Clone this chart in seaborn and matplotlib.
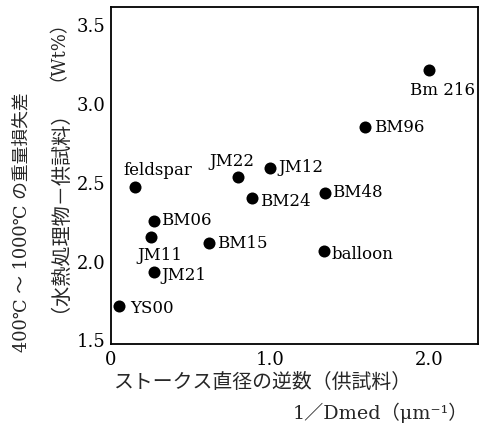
import matplotlib
matplotlib.use("Agg")
import matplotlib.pyplot as plt
import seaborn as sns
import pandas as pd

names = ["Bm 216", "BM96", "JM12", "JM22", "feldspar", "BM48", "BM24",
         "BM06", "JM11", "BM15", "balloon", "JM21", "YS00"]
inv_dmed = [2.00, 1.60, 1.00, 0.80, 0.15, 1.35, 0.89, 0.27, 0.25, 0.62, 1.34, 0.27, 0.05]
loss_diff = [3.21, 2.85, 2.59, 2.53, 2.47, 2.43, 2.40, 2.25, 2.15, 2.11, 2.06, 1.93, 1.71]
x_ticks = [0, 1.0, 2.0]
x_tick_labels = ["0", "1.0", "2.0"]
y_ticks = [1.5, 2.0, 2.5, 3.0, 3.5]
y_tick_labels = ["1.5", "2.0", "2.5", "3.0", "3.5"]

# label offsets in pixels (dx, dy) and alignment
offsets = {
    "Bm 216": (14, -20, "center", "center"),
    "BM96": (9, 0, "left", "center"),
    "JM12": (9, 1, "left", "center"),
    "JM22": (-6, 17, "center", "center"),
    "feldspar": (23, 17, "center", "center"),
    "BM48": (7, 1, "left", "center"),
    "BM24": (8, -3, "left", "center"),
    "BM06": (7, 2, "left", "center"),
    "JM11": (9, -18, "center", "center"),
    "BM15": (8, 1, "left", "center"),
    "balloon": (8, -2, "left", "center"),
    "JM21": (7, -3, "left", "center"),
    "YS00": (11, -1, "left", "center"),
}

df = pd.DataFrame({"name": names, "x": inv_dmed, "y": loss_diff})

sns.set_theme(style="white")
plt.rcParams["font.family"] = ["DejaVu Serif", "Noto Sans CJK JP"]

fig = plt.figure(figsize=(4.92, 4.35), dpi=100)
ax = fig.add_axes([0.2256, 0.2069, 0.7459, 0.7747])

sns.scatterplot(data=df, x="x", y="y", ax=ax, color="black", s=75,
                edgecolor="black", linewidth=0, legend=False)

for n, xv, yv in zip(names, inv_dmed, loss_diff):
    dx, dy, ha, va = offsets[n]
    ax.annotate(n, (xv, yv), xytext=(dx, dy), textcoords="offset pixels",
                ha=ha, va=va, fontsize=12, color="black",
                family=["DejaVu Serif"])

ax.set_xlim(0, 2.31)
ax.set_ylim(1.47, 3.61)
ax.set_xticks(x_ticks)
ax.set_xticklabels(x_tick_labels, fontsize=13)
ax.set_yticks(y_ticks)
ax.set_yticklabels(y_tick_labels, fontsize=13)
ax.tick_params(direction="in", length=5, width=1.2, colors="black",
               top=False, right=False, pad=4)
ax.set_xlabel("")
ax.set_ylabel("")
for sp in ax.spines.values():
    sp.set_color("black")
    sp.set_linewidth(1.3)

fam = ["DejaVu Serif", "Noto Sans CJK JP"]
fig.text(22 / 492, 1 - 222 / 435, "400℃ ～ 1000℃ の重量損失差", rotation=90,
         ha="center", va="center", fontsize=12.8, family=fam)
fig.text(49 / 492, 1 - 201 / 435, "（水熱処理物－供試料）", rotation=90,
         ha="center", va="center", fontsize=14.5, family=fam)
fig.text(49 / 492, 1 - 42 / 435, "（Wt%）", rotation=90,
         ha="center", va="center", fontsize=13, family=fam)
fig.text(262 / 492, 1 - 382 / 435, "ストークス直径の逆数（供試料）",
         ha="center", va="center", fontsize=14.3, family=fam)
fig.text(380 / 492, 1 - 413 / 435, "1／Dmed（μm⁻¹）",
         ha="center", va="center", fontsize=13.8, family=fam)

fig.savefig("out.png", dpi=100)
